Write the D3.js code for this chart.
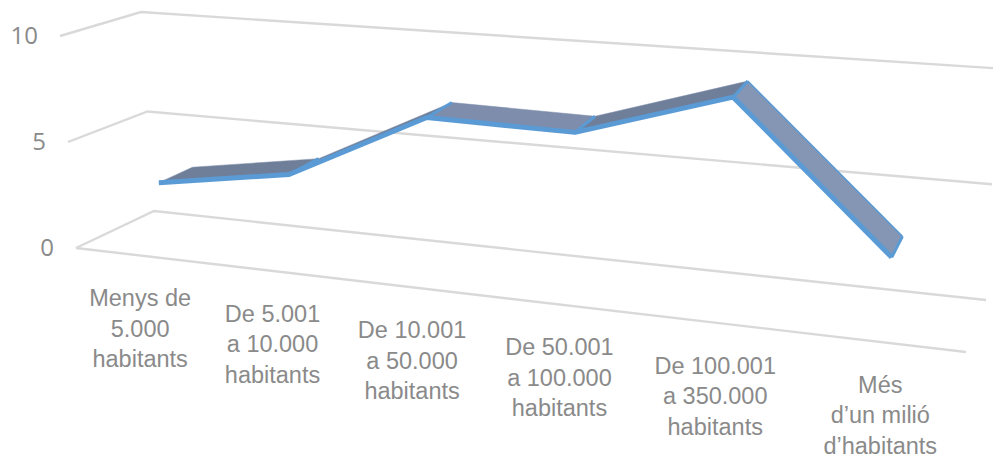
<!DOCTYPE html>
<html>
<head>
<meta charset="utf-8">
<script src="https://cdn.jsdelivr.net/npm/d3@7"></script>
<style>
  html, body { margin: 0; padding: 0; background: #fff; overflow: hidden; }
  svg { display: block; }
  text { font-family: "Liberation Sans", sans-serif; fill: #8a8a8a; }
  .tick-label { font-family: "Open Sans", sans-serif; font-size: 24px; }
  .cat-label { font-size: 23.5px; text-anchor: middle; }
</style>
</head>
<body>
<svg id="chart" width="993" height="457"></svg>
<script>
const categories = [
  ['Menys de', '5.000', 'habitants'],
  ['De 5.001', 'a 10.000', 'habitants'],
  ['De 10.001', 'a 50.000', 'habitants'],
  ['De 50.001', 'a 100.000', 'habitants'],
  ['De 100.001', 'a 350.000', 'habitants'],
  ['Més', 'd\u2019un milió', 'd\u2019habitants']
]
const values = [2.9, 3.9, 7.1, 7.0, 9.1, 2.9]
const ticks = [0, 5, 10]

// corners of the 3d box as it lands on the screen
const box = {
  front: { bl: [76, 248], br: [966, 352], tl: [60, 36], tr: [985, 107] },
  back: { bl: [154, 211], br: [986, 300], tl: [141, 12], tr: [998, 68.5] }
}
const perspective = 1.18 // bands get wider towards the right
const ribbonFront = 0.31
const ribbonBack = 0.76

const svg = d3.select('#chart')

const xBand = d3.scaleBand().domain(d3.range(categories.length)).range([0, 1])
const y = d3.scaleLinear().domain([0, 10]).range([0, 1])

function warp (t) {
  return t / (t + perspective * (1 - t))
}

/** Put a point of the box on the screen
  * @param {Number} t position along the category axis, 0 to 1
  * @param {Number} v the value
  * @param {Number} d depth, 0 at the front and 1 at the back
  * @return {Array} screen x and y
  */
function project (t, v, d) {
  const tw = warp(t)
  const h = y(v)
  const plane = (c) => {
    const bottom = d3.interpolate(c.bl, c.br)(tw)
    const top = d3.interpolate(c.tl, c.tr)(tw)
    return d3.interpolate(bottom, top)(h)
  }
  return d3.interpolate(plane(box.front), plane(box.back))(d)
}

const center = (i) => xBand(i) + xBand.bandwidth() / 2
const line = d3.line()

// grid on the back wall and floor
ticks.forEach((tick) => {
  const pts = [project(0, tick, 0), project(0, tick, 1), project(1, tick, 1)]
  svg.append('path').attr('d', line(pts))
    .attr('fill', 'none').attr('stroke', '#d9d9d9').attr('stroke-width', 2.4)

  const [lx, ly] = project(0, tick, 0)
  svg.append('text').attr('class', 'tick-label')
    .attr('x', lx - 22).attr('y', ly + 8)
    .attr('text-anchor', 'end')
    .text(tick)
})
svg.append('path').attr('d', line([project(0, 0, 0), project(1, 0, 0)]))
  .attr('fill', 'none').attr('stroke', '#d9d9d9').attr('stroke-width', 2.4)

// category labels hang below the front floor edge
categories.forEach((lines, i) => {
  const [lx, ly] = project(center(i), 0, 0)
  const label = svg.append('text').attr('class', 'cat-label')
    .attr('x', lx + 0.5).attr('y', ly + 51)
  lines.forEach((s, j) => {
    label.append('tspan').attr('x', lx + 0.5).attr('dy', j === 0 ? 0 : 30.5).text(s)
  })
})

// the ribbon, one face per segment
const faces = d3.range(values.length - 1)
const faceColor = ['#6f7f99', '#6f7f99', '#7d8dab', '#6f7f99', '#8496b4']
svg.selectAll('path.face')
  .data(faces)
  .enter().append('path').classed('face', true)
  .attr('d', (i) => line([
    project(center(i), values[i], ribbonFront),
    project(center(i + 1), values[i + 1], ribbonFront),
    project(center(i + 1), values[i + 1], ribbonBack),
    project(center(i), values[i], ribbonBack)
  ]) + 'Z')
  .attr('fill', (i) => faceColor[i])
  .attr('stroke', '#7d8dab').attr('stroke-width', 0.5)

const blue = '#5b9bd5'
// side strips at the bends and the end of the ribbon
values.forEach((v, i) => {
  if (i === 0) return
  svg.append('path').attr('d', line([
    project(center(i), v, ribbonFront),
    project(center(i), v, ribbonBack)
  ])).attr('fill', 'none').attr('stroke', blue).attr('stroke-width', 3)
})
svg.append('path').attr('d', line(values.map((v, i) => project(center(i), v, ribbonBack)).slice(4)))
  .attr('fill', 'none').attr('stroke', blue).attr('stroke-width', 1.5)
svg.append('path').attr('d', line(values.map((v, i) => project(center(i), v, ribbonFront))))
  .attr('fill', 'none').attr('stroke', blue).attr('stroke-width', 5)
  .attr('stroke-linejoin', 'round')
</script>
</body>
</html>
